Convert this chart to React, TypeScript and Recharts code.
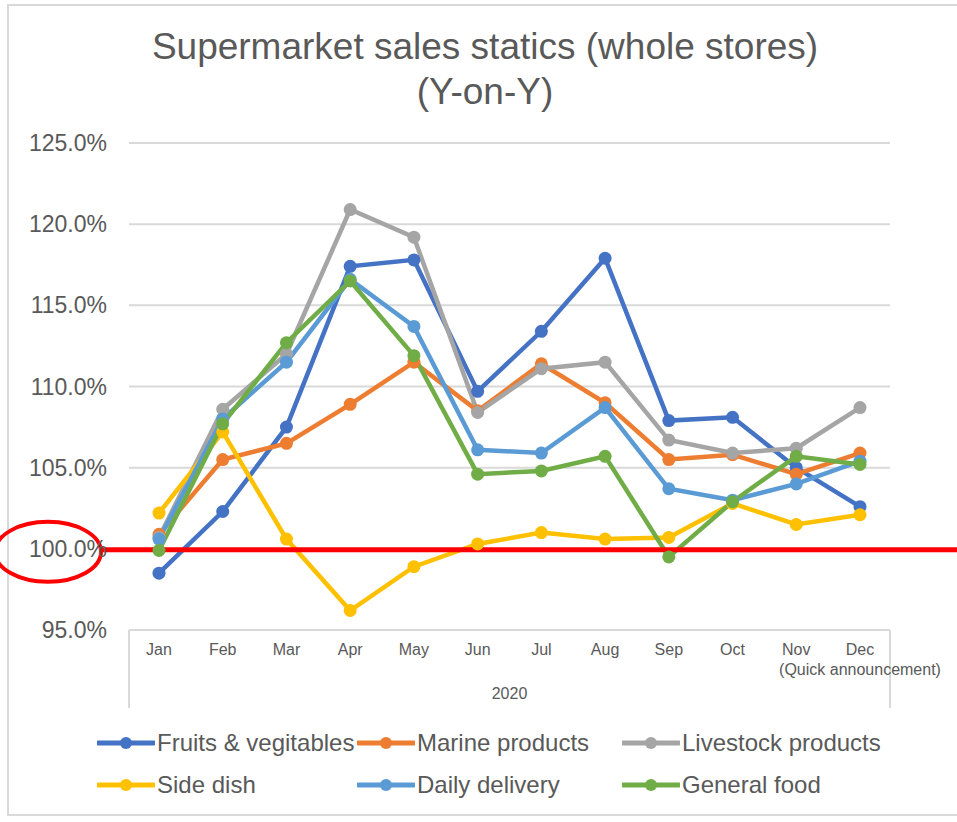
import React from "react";
import { CartesianGrid, Line, LineChart, ReferenceLine, XAxis, YAxis } from "recharts";

const months = ["Jan", "Feb", "Mar", "Apr", "May", "Jun", "Jul", "Aug", "Sep", "Oct", "Nov", "Dec"];
const monthNotes = ["", "", "", "", "", "", "", "", "", "", "", "(Quick announcement)"];
const yearLabel = "2020";
const yTicks = [95, 100, 105, 110, 115, 120, 125];

const fruitsVeg = [98.5, 102.3, 107.5, 117.4, 117.8, 109.7, 113.4, 117.9, 107.9, 108.1, 105.0, 102.6];
const marine = [100.9, 105.5, 106.5, 108.9, 111.5, 108.5, 111.4, 109.0, 105.5, 105.8, 104.6, 105.9];
const livestock = [100.7, 108.6, 112.0, 120.9, 119.2, 108.4, 111.1, 111.5, 106.7, 105.9, 106.2, 108.7];
const sideDish = [102.2, 107.2, 100.6, 96.2, 98.9, 100.3, 101.0, 100.6, 100.7, 102.8, 101.5, 102.1];
const dailyDelivery = [100.6, 108.0, 111.5, 116.6, 113.7, 106.1, 105.9, 108.7, 103.7, 103.0, 104.0, 105.4];
const generalFood = [99.9, 107.7, 112.7, 116.5, 111.9, 104.6, 104.8, 105.7, 99.5, 102.9, 105.7, 105.2];

const series = [
  { key: "fruits", name: "Fruits & vegitables", values: fruitsVeg, color: "#4472C4" },
  { key: "marine", name: "Marine products", values: marine, color: "#ED7D31" },
  { key: "livestock", name: "Livestock products", values: livestock, color: "#A5A5A5" },
  { key: "side", name: "Side dish", values: sideDish, color: "#FFC000" },
  { key: "daily", name: "Daily delivery", values: dailyDelivery, color: "#5B9BD5" },
  { key: "general", name: "General food", values: generalFood, color: "#70AD47" },
];

const data = months.map((month, i) => {
  const row: Record<string, string | number> = { month, note: monthNotes[i] };
  series.forEach((s) => {
    row[s.key] = s.values[i];
  });
  return row;
});

const FONT = "'Liberation Sans', Arial, sans-serif";
const TEXT = "#595959";
const GRID = "#d9d9d9";

function MonthTick(props: any) {
  const { x, y, index } = props;
  const note = monthNotes[index];
  return (
    <g>
      <text x={x} y={y} dy={5} textAnchor="middle" fill={TEXT} fontSize={16} fontFamily={FONT}>
        {props.payload.value}
      </text>
      {note ? (
        <text x={x} y={y} dy={25} textAnchor="middle" fill={TEXT} fontSize={16} fontFamily={FONT}>
          {note}
        </text>
      ) : null}
    </g>
  );
}

// bottom frame of the two-level category axis
function AxisBox(props: any) {
  const { x1, x2, y1 } = props;
  return (
    <g>
      <line x1={x1} x2={x2} y1={y1} y2={y1} stroke={GRID} strokeWidth={2} />
      <line x1={x1} x2={x1} y1={y1} y2={y1 + 78} stroke={GRID} strokeWidth={2} />
      <line x1={x2} x2={x2} y1={y1} y2={y1 + 78} stroke={GRID} strokeWidth={2} />
      <text x={(x1 + x2) / 2} y={y1 + 69} textAnchor="middle" fill={TEXT} fontSize={16} fontFamily={FONT}>
        {yearLabel}
      </text>
    </g>
  );
}

// red marker on the 100% line
function RedMark(props: any) {
  const { y1 } = props;
  return (
    <g>
      <line x1={100} x2={957} y1={y1 + 1} y2={y1 + 1} stroke="#FF0000" strokeWidth={5} />
      <ellipse cx={48} cy={y1 + 3} rx={53} ry={30} fill="none" stroke="#FF0000" strokeWidth={4} />
    </g>
  );
}

function LegendItem({ name, color }: { name: string; color: string }) {
  return (
    <div style={{ display: "flex", alignItems: "center" }}>
      <svg width={58} height={16}>
        <line x1={1} x2={57} y1={8} y2={8} stroke={color} strokeWidth={5} strokeLinecap="round" />
        <circle cx={29} cy={8} r={6} fill={color} />
      </svg>
      <span style={{ fontSize: 24, color: TEXT, fontFamily: FONT, marginLeft: 2 }}>{name}</span>
    </div>
  );
}

export default function App() {
  const legendCols = [97, 357, 622];
  return (
    <div
      style={{
        position: "absolute",
        left: 0,
        top: 0,
        width: 957,
        height: 822,
        overflow: "hidden",
        background: "#fff",
        fontFamily: FONT,
      }}
    >
      <div
        style={{
          position: "absolute",
          left: 7,
          top: 4,
          width: 956,
          height: 812,
          border: `2px solid ${GRID}`,
          boxSizing: "border-box",
        }}
      />
      <div
        style={{
          position: "absolute",
          left: 7,
          top: 24,
          width: 956,
          textAlign: "center",
          color: TEXT,
          fontSize: 37,
          lineHeight: "45px",
        }}
      >
        Supermarket sales statics (whole stores)
        <br />
        (Y-on-Y)
      </div>
      <div style={{ position: "absolute", left: 0, top: 0 }}>
        <LineChart width={957} height={822} data={data} margin={{ top: 143, right: 67, left: 0, bottom: 114 }}>
          <CartesianGrid horizontal vertical={false} stroke={GRID} strokeWidth={2} />
          <XAxis
            dataKey="month"
            axisLine={false}
            tickLine={false}
            height={78}
            tickSize={0}
            tickMargin={20}
            interval={0}
            padding={{ left: 30, right: 30 }}
            tick={<MonthTick />}
          />
          <YAxis
            domain={[95, 125]}
            ticks={yTicks}
            width={129}
            axisLine={false}
            tickLine={false}
            tickSize={0}
            tickMargin={22}
            tickFormatter={(v: number) => `${v.toFixed(1)}%`}
            tick={{ fill: TEXT, fontSize: 23, fontFamily: FONT }}
          />
          <ReferenceLine y={95} shape={<AxisBox />} />
          {series.map((s) => (
            <Line
              key={s.key}
              dataKey={s.key}
              name={s.name}
              type="linear"
              stroke={s.color}
              strokeWidth={4.5}
              dot={{ r: 6.5, fill: s.color, stroke: s.color, strokeWidth: 0 }}
              activeDot={false}
              isAnimationActive={false}
            />
          ))}
          <ReferenceLine y={100} shape={<RedMark />} />
        </LineChart>
      </div>
      {[0, 1].map((row) => (
        <React.Fragment key={row}>
          {series.slice(row * 3, row * 3 + 3).map((s, c) => (
            <div
              key={s.key}
              style={{ position: "absolute", left: legendCols[c], top: 743 + row * 42 - 14 }}
            >
              <LegendItem name={s.name} color={s.color} />
            </div>
          ))}
        </React.Fragment>
      ))}
    </div>
  );
}
